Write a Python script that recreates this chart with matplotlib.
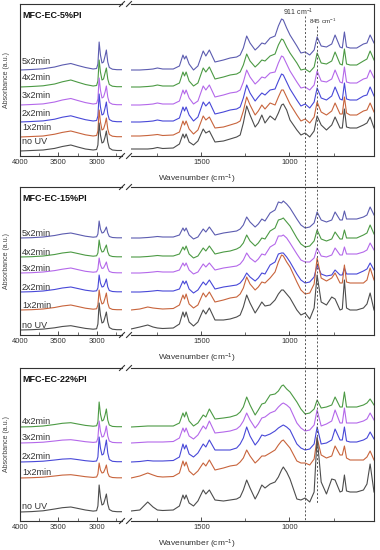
import numpy as np
import matplotlib.pyplot as plt
from matplotlib.lines import Line2D
from matplotlib import transforms

plt.rcParams['font.family'] = ['Liberation Sans', 'DejaVu Sans']
plt.rcParams['mathtext.default'] = 'regular'

# wavenumber grids (cm-1) of the two axis segments
wn_left = [4000, 3850, 3700, 3550, 3450, 3340, 3250, 3150, 3050, 3005, 2988,
           2972, 2955, 2935, 2915, 2895, 2878, 2860, 2840, 2800, 2740, 2675]
wn_right = [1900, 1850, 1805, 1775, 1750, 1720, 1660, 1625, 1605, 1596,
            1587, 1570, 1545, 1520, 1490, 1475, 1455, 1423, 1375, 1337,
            1300, 1280, 1262, 1243, 1224, 1195, 1177, 1157, 1139, 1110,
            1082, 1063, 1045, 1035, 1016, 997, 958, 935, 911, 885,
            860, 843, 820, 790, 760, 741, 713, 700, 688, 676,
            656, 618, 580, 560, 542, 520]

# ---------------- MFC-EC-5%PI (absorbance, a.u. above own baseline) ----------------
p1_names = ['5x2min', '4x2min', '3x2min', '2x2min', '1x2min', 'no UV']
p1_offsets = [86, 69, 51, 34, 19, 5]
p1_5x_L = [0, 0.5, 1.2, 3, 5, 6.5, 4.5, 2.5, 1, 1.5, 6, 28, 15, 7, 8, 14, 20, 8, 2.5, 0.8, 0.3, 0.3]
p1_4x_L = [0, 0.5, 1.2, 3, 5.2, 7, 4.8, 2.5, 1, 1.5, 6, 27, 15, 7, 8, 14, 19, 8, 2.5, 0.8, 0.3, 0.3]
p1_3x_L = [0, 0.5, 1.1, 3, 5, 6.5, 4.5, 2.4, 1, 1.5, 6, 27, 15, 7, 8, 13, 19, 8, 2.5, 0.8, 0.3, 0.3]
p1_2x_L = [0, 0.5, 1.1, 2.8, 4.8, 6.2, 4.3, 2.3, 1, 1.5, 6, 28, 15, 7, 8, 14, 20, 8, 2.5, 0.8, 0.3, 0.3]
p1_1x_L = [0, 0.5, 1, 2.8, 4.6, 6, 4.2, 2.2, 1, 1.5, 6, 27, 15, 7, 8, 13, 19, 8, 2.5, 0.8, 0.3, 0.3]
p1_no_L = [0, 0.5, 1, 2.6, 4.5, 6, 4, 2, 1, 1.5, 6, 28, 16, 8, 9, 14, 20, 9, 3, 1, 0.5, 0.5]
p1_5x_R = [0, 0, 0.5, 1, 2, 1, 1, 4, 15, 11, 14, 6, 0, 4, 19, 14, 20, 8, 10, 12,
           13, 15, 22, 34, 27, 20, 23, 27, 26, 32, 34, 44, 51, 50, 42, 35, 24, 17, 18, 15,
           20, 33, 24, 23, 26, 35, 23, 22, 38, 23, 22, 22, 26, 27, 35, 27]
p1_4x_R = [0, 0, 0.5, 1, 2, 1, 1, 4, 15, 11, 15, 6, 1, 4, 19, 15, 20, 8, 10, 12,
           13, 15, 22, 33, 26, 20, 23, 27, 26, 31, 33, 42, 48, 47, 40, 34, 24, 17, 18, 15,
           20, 34, 24, 23, 26, 35, 23, 22, 38, 23, 22, 22, 26, 28, 36, 27]
p1_3x_R = [0, 0, 0.5, 1, 2, 1, 1, 4, 15, 11, 15, 7, 1, 4, 19, 15, 20, 8, 10, 12,
           13, 15, 23, 35, 28, 21, 24, 28, 27, 32, 33, 42, 49, 48, 41, 34, 23, 17, 18, 15,
           20, 34, 24, 23, 26, 35, 23, 22, 38, 23, 22, 22, 26, 27, 35, 27]
p1_2x_R = [0, 0, 0.5, 1, 2, 1, 1, 4, 15, 11, 15, 7, 1, 5, 20, 16, 20, 8, 10, 12,
           13, 15, 24, 37, 29, 21, 25, 29, 27, 32, 33, 41, 48, 47, 40, 33, 22, 16, 18, 14,
           20, 34, 24, 22, 26, 35, 23, 22, 39, 23, 22, 22, 26, 27, 35, 26]
p1_1x_R = [1, 1, 1.5, 2, 2.5, 1.5, 2, 5, 16, 12, 16, 8, 3, 7, 21, 17, 20, 9, 10, 12,
           14, 16, 26, 40, 32, 22, 26, 32, 28, 34, 32, 40, 47, 47, 40, 33, 22, 16, 18, 14,
           20, 35, 25, 22, 26, 34, 23, 23, 40, 24, 22, 22, 26, 27, 34, 25]
p1_no_R = [2, 2, 2, 2.5, 3.5, 2.5, 3, 7, 17, 13, 17, 9, 6, 10, 22, 18, 20, 9, 10, 12,
           14, 16, 28, 45, 36, 24, 28, 36, 28, 35, 31, 38, 46, 47, 41, 31, 21, 16, 18, 14,
           20, 35, 26, 21, 26, 34, 23, 23, 42, 24, 23, 23, 26, 28, 34, 23]

# ---------------- MFC-EC-15%PI ----------------
p2_names = ['5x2min', '4x2min', '3x2min', '2x2min', '1x2min', 'no UV']
p2_offsets = [97, 78, 62, 43, 25, 5]
p2_5x_L = [0, 0.3, 1, 2.5, 4, 5, 3.5, 1.8, 0.8, 1.2, 4, 17, 9, 5, 5.5, 8, 11, 5, 1.5, 0.5, 0.2, 0.2]
p2_4x_L = [0, 0.3, 1, 2.5, 4, 5, 3.5, 1.8, 0.8, 1.2, 4, 17, 9, 5, 5.5, 9, 12, 5, 1.5, 0.5, 0.2, 0.2]
p2_3x_L = [0, 0.3, 1, 2.4, 3.8, 5, 3.4, 1.7, 0.8, 1.2, 4, 15, 8, 4.5, 5, 8, 11, 5, 1.5, 0.5, 0.2, 0.2]
p2_2x_L = [0, 0.3, 1, 2.5, 4, 5, 3.5, 1.8, 0.8, 1.2, 4, 17, 9, 5, 5.5, 9, 13, 5, 1.5, 0.5, 0.2, 0.2]
p2_1x_L = [0, 0.3, 1, 2.5, 4, 5, 3.5, 1.8, 0.8, 1.2, 5, 20, 11, 6, 7, 12, 17, 7, 2, 0.6, 0.3, 0.3]
p2_no_L = [0, 0.3, 0.9, 2.2, 3.5, 4.3, 3, 1.6, 0.8, 1.2, 6, 27, 15, 7, 8, 13, 18, 8, 2.5, 0.8, 0.3, 0.3]
p2_5x_R = [0, 0, 0.5, 1, 1.5, 1, 1, 3, 10, 7, 10, 3, -1, 1, 9, 6, 11, 3, 5, 6,
           7, 9, 13, 21, 16, 11, 14, 19, 17, 25, 28, 36, 35, 37, 34, 30, 19, 13, 10, 11,
           15, 26, 18, 16, 18, 26, 18, 18, 27, 19, 19, 19, 21, 23, 31, 23]
p2_4x_R = [0, 0, 0.5, 1, 1.5, 1, 1, 3, 10, 7, 11, 3, -1, 1, 9, 6, 11, 3, 5, 6,
           8, 10, 14, 22, 16, 11, 14, 19, 18, 26, 29, 37, 38, 39, 35, 31, 19, 13, 10, 11,
           16, 27, 18, 16, 18, 25, 18, 18, 27, 19, 19, 19, 22, 24, 32, 23]
p2_3x_R = [0, 0, 0.5, 1, 1.5, 1, 1, 3, 10, 7, 10, 3, -1, 1, 9, 6, 10, 3, 5, 6,
           7, 9, 13, 20, 15, 11, 14, 19, 18, 26, 29, 37, 37, 38, 35, 30, 19, 13, 11, 11,
           15, 25, 17, 16, 18, 25, 18, 18, 26, 19, 19, 19, 21, 23, 30, 23]
p2_2x_R = [0, 0, 0.5, 1, 1.5, 1, 1, 3, 11, 8, 11, 3, -1, 2, 10, 7, 12, 3, 5, 6,
           7, 9, 13, 19, 15, 11, 14, 19, 18, 27, 30, 38, 39, 39, 35, 30, 18, 12, 9, 10,
           15, 27, 18, 16, 17, 22, 17, 17, 24, 18, 18, 18, 21, 23, 29, 22]
p2_1x_R = [0, 1, 3, 2, 1.5, 1, 1.5, 5, 15, 11, 16, 6, 2, 5, 17, 13, 18, 8, 10, 12,
           13, 16, 22, 33, 26, 20, 23, 28, 27, 32, 38, 48, 55, 54, 48, 43, 28, 20, 16, 17,
           26, 52, 32, 29, 32, 37, 27, 27, 45, 28, 27, 27, 27, 30, 42, 30]
p2_no_R = [1, 3, 5, 3, 2, 1.5, 2, 6, 18, 13, 18, 8, 4, 8, 20, 16, 22, 10, 10, 11,
           13, 15, 23, 35, 27, 17, 22, 28, 24, 25, 30, 36, 40, 40, 36, 32, 20, 15, 17, 11,
           22, 55, 28, 25, 33, 31, 20, 21, 50, 22, 20, 20, 22, 26, 37, 20]

# ---------------- MFC-EC-22%PI ----------------
p3_names = ['4x2min', '3x2min', '2x2min', '1x2min', 'no UV']
p3_offsets = [94, 78, 59, 43, 9]
p3_4x_L = [0, 0.3, 1, 2.5, 3.7, 4.3, 3, 1.6, 0.8, 1.2, 5, 25, 13, 6, 7, 12, 18, 7, 2, 0.6, 0.3, 0.3]
p3_3x_L = [0, 0.3, 0.8, 2, 2.9, 3.3, 2.4, 1.3, 0.6, 1, 5, 22, 12, 6, 6.5, 11, 17, 7, 2, 0.6, 0.3, 0.3]
p3_2x_L = [0, 0.3, 0.8, 2, 2.9, 3.3, 2.4, 1.3, 0.6, 1, 5, 25, 14, 7, 8, 15, 22, 9, 2.5, 0.7, 0.3, 0.3]
p3_1x_L = [0, 0.3, 0.8, 2, 2.9, 3.3, 2.4, 1.3, 0.6, 1, 4, 15, 8, 5, 5.5, 9, 13, 5, 1.5, 0.5, 0.2, 0.2]
p3_no_L = [0, 0.4, 1.2, 3, 4.3, 5, 3.6, 2, 0.9, 1.3, 6, 27, 15, 7, 8, 13, 18, 8, 2.5, 0.8, 0.3, 0.3]
p3_4x_R = [0, 0.5, 1, 1, 1, 1, 1, 4, 14, 10, 15, 6, 1, 4, 12, 10, 18, 8, 9, 10,
           12, 15, 20, 30, 22, 12, 17, 23, 24, 32, 33, 36, 41, 42, 38, 35, 25, 18, 13, 14,
           18, 27, 19, 20, 22, 30, 20, 20, 35, 20, 20, 20, 22, 24, 28, 22]
p3_3x_R = [0, 0.5, 1, 1, 1, 1, 1.5, 5, 15, 11, 15, 7, 4, 8, 17, 14, 22, 10, 11, 12,
           14, 17, 22, 30, 23, 15, 19, 25, 26, 30, 32, 36, 39, 40, 38, 35, 20, 15, 12, 13,
           18, 33, 17, 19, 22, 33, 20, 20, 35, 20, 20, 20, 22, 24, 30, 23]
p3_2x_R = [0, 0.5, 1.5, 1, 1, 1, 1.5, 5, 18, 13, 17, 8, 5, 9, 18, 15, 22, 12, 12, 12,
           14, 18, 24, 35, 26, 17, 21, 27, 26, 28, 31, 34, 36, 37, 35, 32, 18, 14, 12, 13,
           18, 35, 18, 19, 22, 33, 22, 22, 35, 21, 20, 20, 22, 24, 30, 23]
p3_1x_R = [0, 2, 5, 3, 1.5, 1, 1.5, 5, 17, 12, 16, 7, 3, 7, 15, 12, 18, 8, 10, 12,
           13, 16, 20, 28, 22, 15, 18, 22, 22, 25, 28, 33, 37, 38, 34, 30, 17, 15, 15, 13,
           19, 40, 23, 20, 22, 32, 23, 23, 32, 20, 18, 18, 18, 21, 27, 18]
p3_no_R = [1, 2, 10, 5, 2, 1.5, 2, 6, 17, 13, 17, 9, 6, 11, 22, 18, 22, 12, 11, 12,
           13, 15, 22, 32, 24, 13, 19, 27, 24, 28, 30, 35, 42, 45, 40, 33, 13, 12, 14, 10,
           20, 75, 30, 18, 33, 32, 20, 21, 37, 21, 20, 20, 22, 28, 48, 20]

colors = {'no UV': '#4d4d4d', '1x2min': '#c8643c', '2x2min': '#4848d8',
          '3x2min': '#b468ea', '4x2min': '#4c9a44', '5x2min': '#5c5cb0'}

W, H = 380, 550
fig = plt.figure(figsize=(W / 100, H / 100), dpi=100)
ink = '#333333'


def fx(px):
    return px / W


def fy(py):
    return 1 - py / H


def draw_panel(top, bottom, title, names, offsets, lefts, rights, label_dy):
    h = bottom - top
    axL = fig.add_axes([fx(20), fy(bottom), (122 - 20) / W, h / H])
    axR = fig.add_axes([fx(131), fy(bottom), (374 - 131) / W, h / H])
    for name, off, yl, yr in zip(names, offsets, lefts, rights):
        c = colors[name]
        axL.plot(wn_left, np.array(yl) + off, color=c, lw=0.8)
        axR.plot(wn_right, np.array(yr) + off, color=c, lw=0.8)
        tr = transforms.blended_transform_factory(axL.transAxes, axL.transData)
        axL.text(0.02, off + label_dy, name, transform=tr, fontsize=6.5,
                 color=ink, va='center', ha='left')
    for ax in (axL, axR):
        ax.set_ylim(0, h)
        ax.set_yticks([])
        ax.tick_params(axis='x', which='major', direction='in', length=3,
                       width=0.6, labelsize=5.5, pad=2, colors=ink)
        ax.tick_params(axis='x', which='minor', direction='in', length=2, width=0.5, colors=ink)
        for s in ax.spines.values():
            s.set_linewidth(0.8)
            s.set_color(ink)
    axL.set_xlim(4000, 2675)
    axR.set_xlim(1900, 520)
    axL.set_xticks([4000, 3500, 3000])
    axL.set_xticks([3750, 3250, 2750], minor=True)
    axR.set_xticks([1500, 1000])
    axR.set_xticks([1750, 1250, 750], minor=True)
    axL.spines['right'].set_visible(False)
    axR.spines['left'].set_visible(False)
    axL.text(0.02, 1 - 11 / h, title, transform=axL.transAxes, fontsize=6.5,
             fontweight='bold', color='#111111', va='center', ha='left')
    # axis break marks
    for ys in (top, bottom):
        for xc in (122, 129):
            fig.add_artist(Line2D([fx(xc - 2.5), fx(xc + 2.5)], [fy(ys + 2.5), fy(ys - 2.5)],
                                  color=ink, lw=0.8))
    fig.text(fx(197), fy(bottom + 23), 'Wavenumber (cm$^{-1}$)', ha='center', va='center',
             fontsize=6, color=ink)
    fig.text(fx(7), fy((top + bottom) / 2), 'Absorbance (a.u.)', rotation=90, ha='center',
             va='center', fontsize=5, color='#444444')
    return axR


axR1 = draw_panel(4, 156, 'MFC-EC-5%PI', p1_names, p1_offsets,
                  [p1_5x_L, p1_4x_L, p1_3x_L, p1_2x_L, p1_1x_L, p1_no_L],
                  [p1_5x_R, p1_4x_R, p1_3x_R, p1_2x_R, p1_1x_R, p1_no_R], 9)
draw_panel(187, 335, 'MFC-EC-15%PI', p2_names, p2_offsets,
           [p2_5x_L, p2_4x_L, p2_3x_L, p2_2x_L, p2_1x_L, p2_no_L],
           [p2_5x_R, p2_4x_R, p2_3x_R, p2_2x_R, p2_1x_R, p2_no_R], 4.5)
draw_panel(368, 521, 'MFC-EC-22%PI', p3_names, p3_offsets,
           [p3_4x_L, p3_3x_L, p3_2x_L, p3_1x_L, p3_no_L],
           [p3_4x_R, p3_3x_R, p3_2x_R, p3_1x_R, p3_no_R], 5.5)

# marker lines at 911 and 845 cm-1 running through all three panels
mark = transforms.blended_transform_factory(axR1.transData, fig.transFigure)
fig.add_artist(Line2D([911, 911], [fy(16), fy(521)], transform=mark, color='#555555',
                      lw=0.7, ls=(0, (2, 2))))
fig.add_artist(Line2D([845, 845], [fy(26), fy(503)], transform=mark, color='#555555',
                      lw=0.7, ls=(0, (2, 2))))
fig.text(fx(298), fy(12.5), '911 cm$^{-1}$', ha='center', va='center', fontsize=5, color=ink)
fig.text(fx(323), fy(21.5), '845 cm$^{-1}$', ha='center', va='center', fontsize=4.5, color=ink)

fig.savefig('out.png', dpi=100)
